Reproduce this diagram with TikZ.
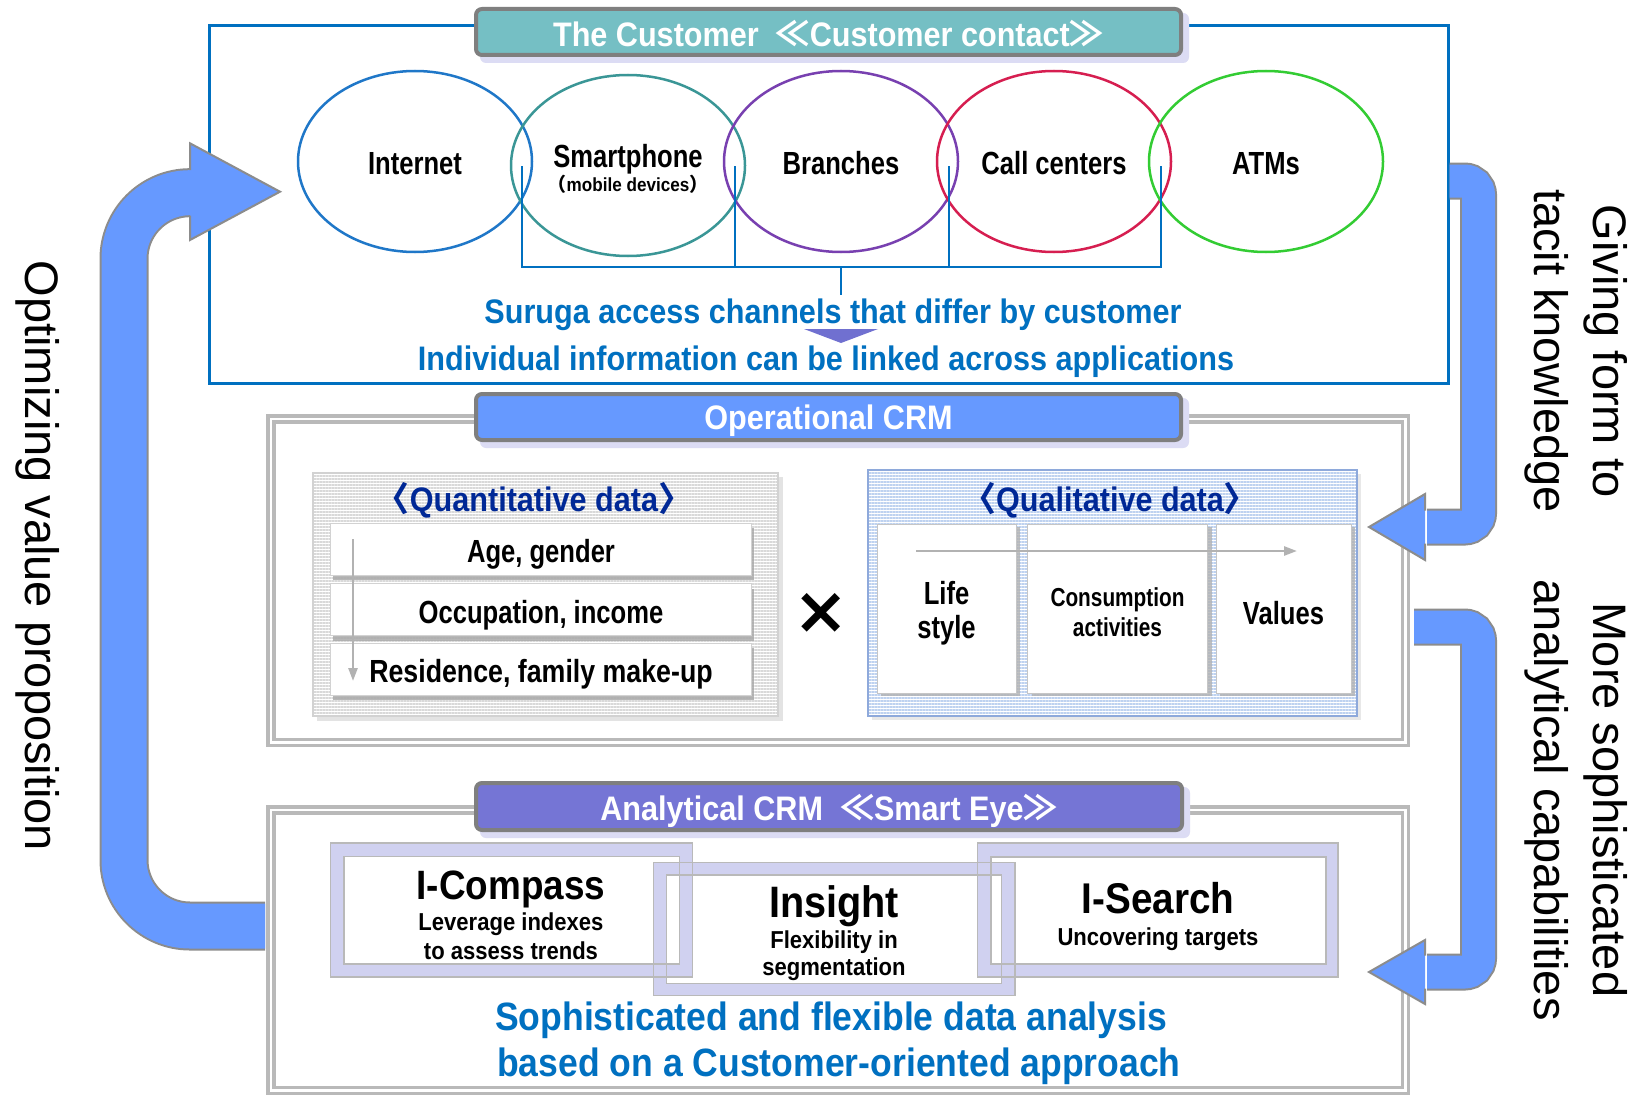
\documentclass[tikz,border=0pt]{standalone}
\usepackage{fontspec}
\setmainfont{Liberation Sans}
\newfontfamily\cb{Liberation Sans}[FakeStretch=0.8]
\newfontfamily\cbw{Liberation Sans}[FakeStretch=0.9]
\newfontfamily\cjk{Noto Sans CJK JP}
\newfontfamily\djv{DejaVu Sans}
\usetikzlibrary{shapes.geometric,arrows.meta,patterns.meta,shadows}
\definecolor{frameblue}{RGB}{0,112,192}
\definecolor{hdrteal}{RGB}{117,191,196}
\definecolor{hdrblue}{RGB}{102,153,255}
\definecolor{hdrpurple}{RGB}{117,117,213}
\definecolor{hdrshadow}{RGB}{220,220,244}
\definecolor{hdredge}{RGB}{127,127,127}
\definecolor{arrowblue}{RGB}{102,153,255}
\definecolor{arrowedge}{RGB}{140,140,140}
\definecolor{lav}{RGB}{208,209,240}
\definecolor{navytxt}{RGB}{0,40,150}
\definecolor{qlblue}{RGB}{190,210,240}
\definecolor{qlborder}{RGB}{142,169,219}
\definecolor{trisym}{RGB}{112,112,208}
\definecolor{eA}{RGB}{31,119,200}
\definecolor{eB}{RGB}{58,150,150}
\definecolor{eC}{RGB}{120,64,176}
\definecolor{eD}{RGB}{214,30,80}
\definecolor{eE}{RGB}{51,204,51}
\begin{document}
\begin{tikzpicture}[x=1pt,y=-1pt,
  capc/.style 2 args={text height=#1pt, text depth=#2pt},
  hdr/.style={draw=hdredge, line width=4pt, rounded corners=6pt, text=white, capc={35}{6.8},
    font=\fontsize{34}{40}\cbw\bfseries, inner sep=0pt, minimum width=705pt, minimum height=46pt},
  ell/.style={ellipse, line width=2.5pt, minimum width=234pt, minimum height=181pt, capc={32.9}{6.4},
    inner sep=0pt, font=\fontsize{32}{36}\cb\bfseries},
  bluetxt/.style={text=frameblue, inner sep=0pt, capc={31.3}{6.8}, font=\fontsize{34}{40}\cbw\bfseries},
  bigblue/.style={text=frameblue, inner sep=0pt, capc={36.3}{7.9}, font=\fontsize{39.5}{44}\cbw\bfseries},
  bracket/.style={draw=frameblue, line width=2pt},
  grayframe/.style={draw=gray!55, double=white, line width=3.5pt, double distance=2.5pt},
  qtitle/.style={text=navytxt, inner sep=0pt, capc={31.3}{6.8}, font=\fontsize{34}{40}\cbw\bfseries},
  rowbox/.style={fill=white, draw=gray!35, line width=1pt, minimum width=421pt, minimum height=52pt,
    inner sep=0pt, capc={33.5}{6.4}, font=\fontsize{32}{36}\cb\bfseries,
    drop shadow={shadow xshift=2pt, shadow yshift=-5pt, fill=gray!70, opacity=.8}},
  colbox/.style={fill=white, draw=gray!45, line width=1pt, minimum height=169pt, inner sep=0pt,
    align=center, drop shadow={shadow xshift=4pt, shadow yshift=-3pt, fill=gray!60, opacity=.8}},
  garrow/.style={draw=gray!60, line width=2.5pt, -{Triangle[width=9pt,length=13pt]}},
  ring/.style={fill=lav, even odd rule},
  ringline/.style={draw=gray!55, line width=1.3pt},
  bigname/.style={inner sep=0pt, capc={39.6}{8.6}, font=\fontsize{43}{48}\cbw\bfseries},
  smallname/.style={inner sep=0pt, capc={22.5}{4.9}, font=\fontsize{24.5}{28}\cbw\bfseries},
  sidetxt/.style={inner sep=0pt, align=center, rotate=-90, font=\fontsize{47}{59}\selectfont},
  shaftedge/.style={draw=arrowedge, rounded corners=#1},
  headstyle/.style={fill=arrowblue, draw=arrowedge, line width=2pt, line join=miter}
]
\useasboundingbox (0,0) rectangle (1635,1097);
\fill[white] (0,0) rectangle (1635,1097);

% ---------- top box: the customer ----------
\draw[frameblue, line width=3pt] (209,26) rectangle (1448,383);
\fill[hdrshadow, rounded corners=6pt] (480,13) rectangle (1189,63);
\node[hdr, fill=hdrteal] (h1) at (828.5,32) {The Customer\ \ {\cjk ≪}Customer contact{\cjk ≫}};

\node[ell, draw=eA] (internet) at (415,161.5) {Internet};
\node[ell, draw=eB] (smart) at (628,165.5) {};
\node[ell, draw=eC] (branch) at (841,161.5) {Branches};
\node[ell, draw=eD] (callc) at (1054,161.5) {Call centers};
\node[ell, draw=eE] (atms) at (1266,161.5) {ATMs};
\node[inner sep=0pt, capc={29.4}{6.4}, font=\fontsize{32}{36}\cb\bfseries] (smt) at (628,156.2) {Smartphone};
\node[inner sep=0pt, capc={17.5}{3.8}, font=\fontsize{19}{22}\cbw\bfseries] (smsub) at (628,185) {{\cjk （}mobile devices{\cjk ）}};

\coordinate (bk1) at (522,166);
\coordinate (bk2) at (735,166);
\coordinate (bk3) at (949,166);
\coordinate (bk4) at (1161,166);
\coordinate (bkm) at (841,267);
\coordinate (bkt) at (841,295);
\draw[bracket] (bk1) -- (bk1 |- bkm) -- (bk4 |- bkm) -- (bk4);
\draw[bracket] (bk2) -- (bk2 |- bkm);
\draw[bracket] (bk3) -- (bk3 |- bkm);
\draw[bracket] (bkm) -- (bkt);

\fill[trisym] (804,329) -- (878,329) -- (841,343) -- cycle;
\node[bluetxt] (t1) at (833,310.8) {Suruga access channels that differ by customer};
\node[bluetxt] (t2) at (826,358.3) {Individual information can be linked across applications};

% ---------- operational CRM ----------
\draw[grayframe] (271,418.75) rectangle (1405.25,742.25);
\fill[hdrshadow, rounded corners=6pt] (480,398) rectangle (1189,448);
\node[hdr, fill=hdrblue, capc={31.5}{6.8}] (h2) at (828.5,417) {Operational CRM};

% quantitative panel
\fill[gray!22] (317,477) rectangle (783,721);
\path[preaction={fill=white}, pattern={Lines[angle=0,distance=3pt,line width=1.4pt]}, pattern color=gray!30]
  (313,473) rectangle (778,716);
\draw[gray!35, line width=1.2pt] (313,473) rectangle (778,716);
\node[qtitle] (qtt) at (534,499) {{\cjk 〈}Quantitative data{\cjk 〉}};
\node[rowbox] (r1) at (541,549) {Age, gender};
\node[rowbox] (r2) at (541,609.5) {Occupation, income};
\node[rowbox] (r3) at (541,669) {\scalebox{1.045}[1]{Residence, family make-up}};
\coordinate (qa1) at (353,539);
\coordinate (qa2) at (353,681);
\draw[garrow] (qa1) -- (qa2);

\node[inner sep=0pt, font=\fontsize{66}{66}\djv\bfseries] (times) at (821,613) {×};

% qualitative panel
\fill[gray!18] (872,474) rectangle (1361,720);
\path[preaction={fill=white}, pattern={Lines[angle=0,distance=3pt,line width=1.4pt]}, pattern color=qlblue]
  (868,470) rectangle (1357,716);
\draw[qlborder, line width=1.5pt] (868,470) rectangle (1357,716);
\node[qtitle] (qlt) at (1110,499) {{\cjk 〈}Qualitative data{\cjk 〉}};
\node[colbox, minimum width=139pt, capc={66.4}{6.4}, font=\fontsize{32}{34}\cb\bfseries] (c1) at (946.5,608.5) {Life\\style};
\node[colbox, minimum width=180pt, capc={60.2}{5.2}, font=\fontsize{26}{30}\cb\bfseries] (c2) at (1117.5,608.5) {Consumption\\activities};
\node[colbox, minimum width=135pt, capc={38.3}{6.4}, font=\fontsize{32}{37}\cb\bfseries] (c3) at (1283.5,608.5) {Values};
\coordinate (qb1) at (916,551);
\coordinate (qb2) at (1297,551);
\draw[garrow] (qb1) -- (qb2);

% ---------- analytical CRM ----------
\draw[grayframe] (271,809.75) rectangle (1405.25,1090.25);
\fill[hdrshadow, rounded corners=6pt] (480,787) rectangle (1190,838);
\node[hdr, fill=hdrpurple, minimum width=706pt, minimum height=47pt] (h3) at (829,806.5) {Analytical CRM\ \ {\cjk ≪}Smart Eye{\cjk ≫}};

\fill[ring] (330.6,843) rectangle (692.7,977) (344,856.7) rectangle (679.3,964);
\fill[ring] (977.6,843) rectangle (1338,977) (991,857) rectangle (1326,964);
\fill[ring] (653.3,862.7) rectangle (1015,995.7) (666.7,875) rectangle (1001.5,983.3);
\draw[ringline] (330.6,843) rectangle (692.7,977) (344,856.7) rectangle (679.3,964);
\draw[ringline] (977.6,843) rectangle (1338,977) (991,857) rectangle (1326,964);
\draw[ringline] (653.3,862.7) rectangle (1015,995.7) (666.7,875) rectangle (1001.5,983.3);

\node[bigname, font=\fontsize{41}{46}\cbw\bfseries, capc={37.7}{8.2}] (ic) at (511,885) {I-Compass};
\node[smallname] (ic1) at (511,921.7) {Leverage indexes};
\node[smallname] (ic2) at (511,950.8) {to assess trends};
\node[bigname, font=\fontsize{44}{48}\cbw\bfseries, capc={40.5}{8.8}] (ins) at (834,901.5) {Insight};
\node[smallname] (ins1) at (834,940) {Flexibility in};
\node[smallname] (ins2) at (834,967) {segmentation};
\node[bigname] (is) at (1158,898.3) {I-Search};
\node[smallname] (is1) at (1158,936.3) {Uncovering targets};

\node[bigblue] (b1) at (831,1016) {Sophisticated and flexible data analysis};
\node[bigblue] (b2) at (839,1062) {based on a Customer-oriented approach};

% ---------- loop arrows ----------
\coordinate (la0) at (265,926);
\coordinate (la1) at (124,926);
\coordinate (la2) at (124,192.7);
\coordinate (la3) at (192,192.7);
\draw[shaftedge=66pt, line width=49pt] (la0) -- (la1) -- (la2) -- (la3);
\draw[draw=arrowblue, rounded corners=66pt, line width=45pt] (la0) -- (la1) -- (la2) -- (la3);
\filldraw[headstyle] (190,170) -- (190,143.3) -- (280,191.7) -- (190,240) -- (190,215.5);

\coordinate (ra0) at (1449.5,181);
\coordinate (ra1) at (1478.5,181);
\coordinate (ra2) at (1478.5,527);
\coordinate (ra3) at (1427,527);
\draw[shaftedge=14pt, line width=37pt] (ra0) -- (ra1) -- (ra2) -- (ra3);
\draw[draw=arrowblue, rounded corners=14pt, line width=33pt] (ra0) -- (ra1) -- (ra2) -- (ra3);
\filldraw[headstyle] (1425,510.5) -- (1425,494) -- (1369,527) -- (1425,560) -- (1425,543.5);

\coordinate (rb0) at (1414,627);
\coordinate (rb1) at (1478.5,627);
\coordinate (rb2) at (1478.5,972);
\coordinate (rb3) at (1427,972);
\draw[shaftedge=14pt, line width=37pt] (rb0) -- (rb1) -- (rb2) -- (rb3);
\draw[draw=arrowblue, rounded corners=14pt, line width=33pt] (rb0) -- (rb1) -- (rb2) -- (rb3);
\filldraw[headstyle] (1425,955.5) -- (1425,940) -- (1369,972) -- (1425,1004) -- (1425,988.5);

% ---------- side labels ----------
\node[sidetxt] (s1) at (1576,351) {Giving form to\\tacit knowledge};
\node[sidetxt] (s2) at (1576,800) {More sophisticated\\analytical capabilities};
\node[sidetxt] (s3) at (38,556) {Optimizing value proposition};
\end{tikzpicture}
\end{document}
